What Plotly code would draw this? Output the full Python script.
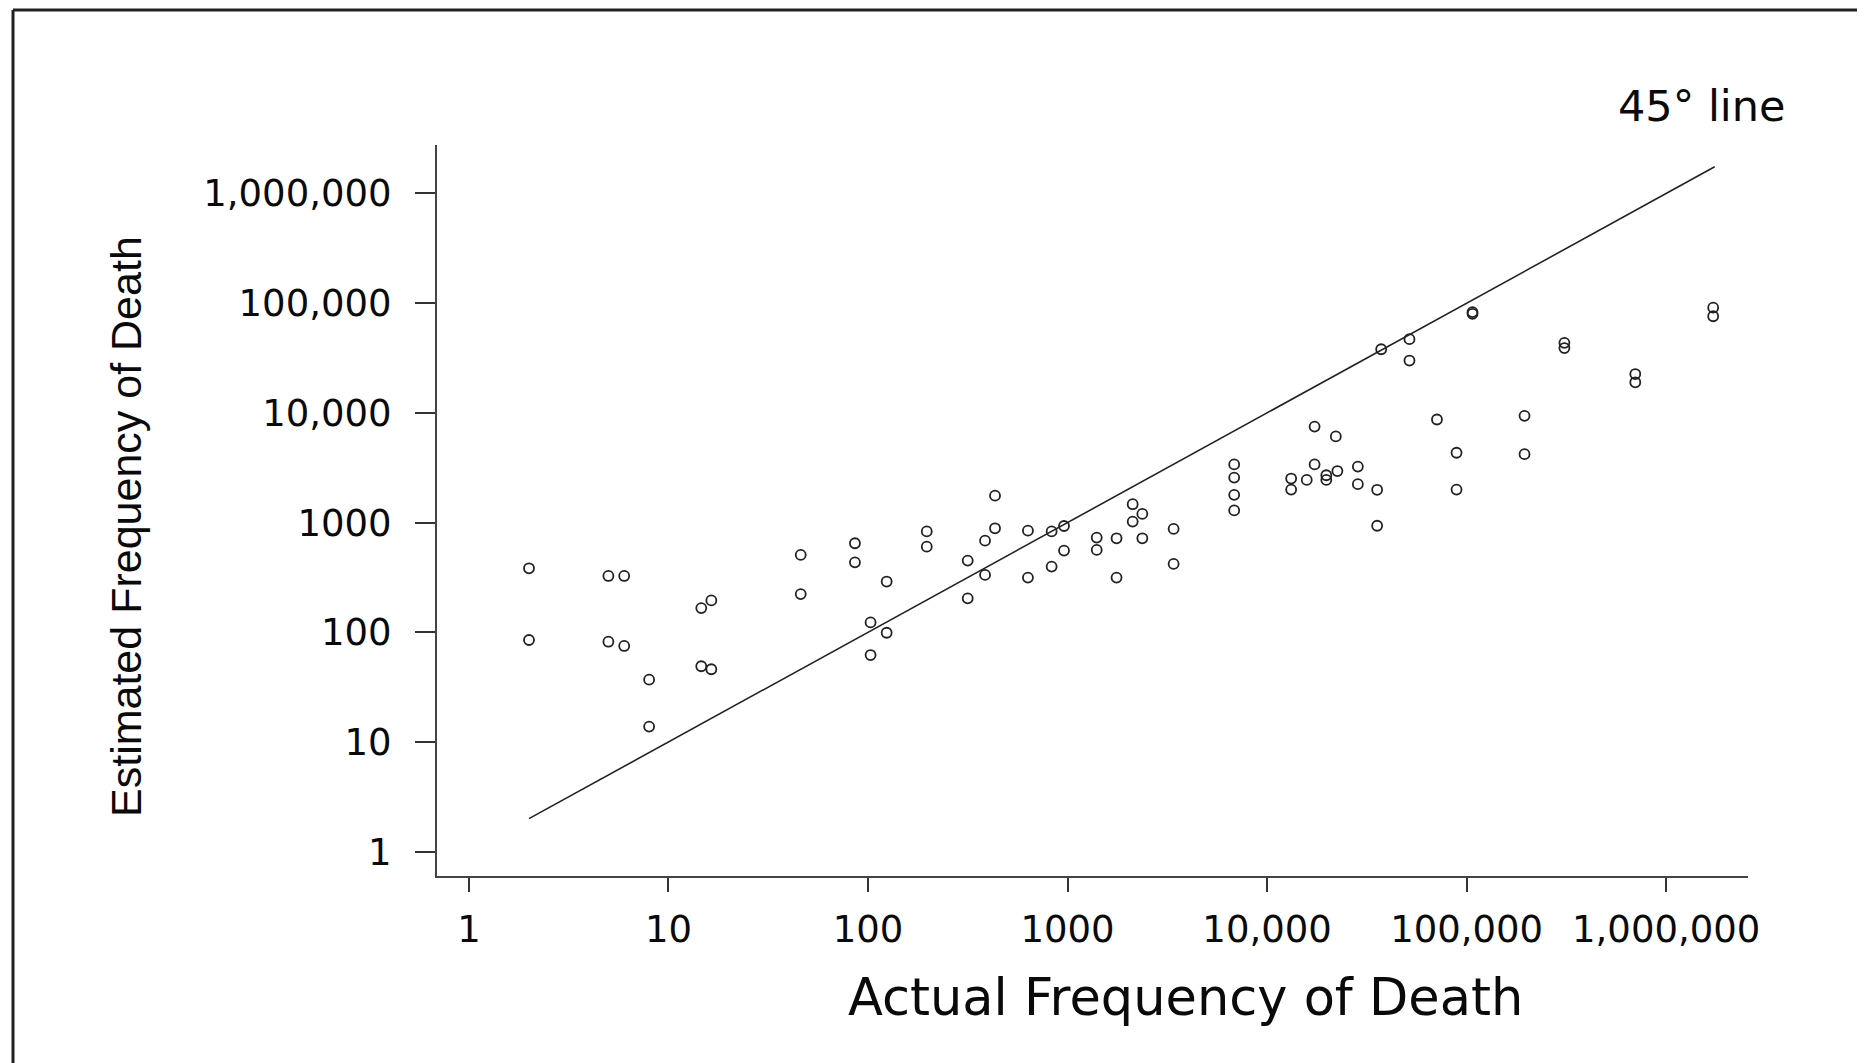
import plotly.graph_objects as go

# ---- data (actual vs. estimated annual deaths) ----
actual_freq = [
    2, 2, 5, 6, 5, 6, 8, 8, 14.6, 16.4, 14.6, 16.4, 46, 46, 86, 86, 103, 103, 124, 124,
    197, 197, 316, 316, 386, 386, 433, 433, 633, 633, 832, 832, 960, 960, 1400, 1400,
    1760, 1760, 2120, 2120, 2370, 2370, 3400, 3400, 6840, 6840, 6840, 6840,
    13200, 13200, 15800, 17300, 17300, 19800, 19800, 22100, 22500, 28500, 28500,
    35600, 35600, 37300, 51700, 51700, 71000, 89000, 89000, 107000, 107000,
    195000, 195000, 309000, 309000, 700000, 700000, 1720000, 1720000,
]
estimated_freq = [
    383, 85, 326, 326, 82, 75, 37, 13.8, 166, 195, 49, 46, 507, 223, 648, 434, 123, 62, 290, 99,
    830, 603, 450, 204, 684, 333, 1760, 887, 844, 315, 830, 397, 930, 555, 730, 563,
    719, 315, 1470, 1020, 1200, 719, 875, 420, 3390, 2570, 1790, 1290,
    2520, 2000, 2450, 7500, 3390, 2700, 2450, 6100, 2950, 3240, 2240,
    1990, 935, 38000, 47000, 30000, 8700, 4330, 2000, 83000, 80000,
    9400, 4200, 43500, 39000, 22600, 19000, 91000, 76000,
]
line_x = [2, 1750000]
line_y = [2, 1750000]
tick_vals = [1, 10, 100, 1000, 10000, 100000, 1000000]
tick_text = ["1", "10", "100", "1000", "10,000", "100,000", "1,000,000"]
x_title = "Actual Frequency of Death"
y_title = "Estimated Frequency of Death"
line_label = "45° line"

# ---- layout geometry (pixels); the page body adds an 8 px offset ----
OFF = 8
W, H = 1857, 1055
L, R, T, B = 429, 117, 137, 187
PW, PH = W - L - R, H - T - B


def px(x_page):
    return (x_page - OFF - L) / PW


def py(y_page):
    return (H - B - (y_page - OFF)) / PH


HFONT = "DejaVu Sans"
INK = "#0a0a0a"

fig = go.Figure()
fig.add_trace(go.Scatter(
    x=line_x, y=line_y, mode="lines",
    line=dict(color="#222222", width=1.6), hoverinfo="skip", showlegend=False,
))
fig.add_trace(go.Scatter(
    x=actual_freq, y=estimated_freq, mode="markers",
    marker=dict(symbol="circle-open", size=10, color="#222222", line=dict(width=1.8)),
    showlegend=False,
))

axis_common = dict(
    type="log", tickmode="array", tickvals=tick_vals, ticktext=tick_text,
    showgrid=False, zeroline=False, showline=True, linecolor="#444444", linewidth=2,
    ticks="outside", tickcolor="#333333", tickwidth=2,
    tickfont=dict(family=HFONT, size=37, color=INK),
)
fig.update_xaxes(**axis_common, range=[-0.16, 6.41], ticklen=14, ticklabelstandoff=6)
fig.update_yaxes(**axis_common, range=[-0.222, 6.442], ticklen=20, ticklabelstandoff=16)

annotations = [
    dict(text=x_title, x=px(1185), y=py(997), xref="paper", yref="paper",
         xanchor="center", yanchor="middle", showarrow=False,
         font=dict(family=HFONT, size=51, color=INK)),
    dict(text=y_title, x=px(126), y=py(527), xref="paper", yref="paper",
         xanchor="center", yanchor="middle", showarrow=False, textangle=-90,
         font=dict(family="Liberation Sans", size=43, color=INK)),
    dict(text=line_label, x=px(1616), y=py(106), xref="paper", yref="paper",
         xanchor="left", yanchor="middle", showarrow=False,
         font=dict(family=HFONT, size=43, color=INK)),
]

border = dict(type="line", xref="paper", yref="paper", line=dict(color="#222222", width=3))
shapes = [
    dict(border, x0=px(13), x1=px(13), y0=py(10), y1=py(1063)),
    dict(border, x0=px(13), x1=px(1861), y0=py(10), y1=py(10)),
    dict(border, x0=px(1861), x1=px(1861), y0=py(10), y1=py(1063)),
]

fig.update_layout(
    width=W, height=H,
    margin=dict(l=L, r=R, t=T, b=B, autoexpand=False),
    paper_bgcolor="white", plot_bgcolor="white",
    annotations=annotations, shapes=shapes,
    font=dict(family=HFONT, color=INK),
)

fig.write_html("out.html")
